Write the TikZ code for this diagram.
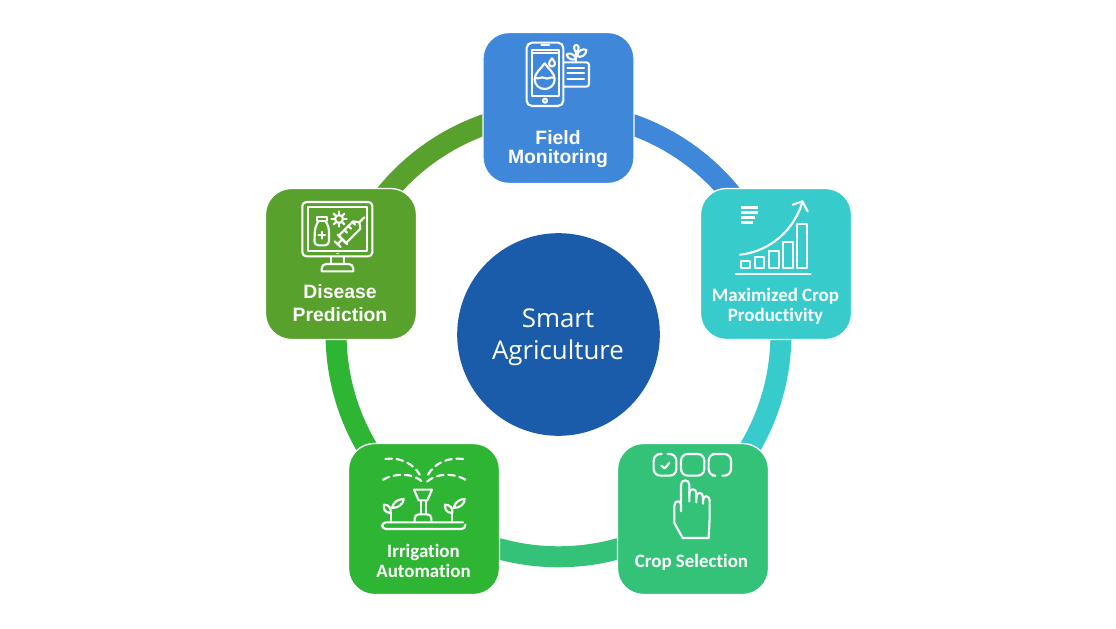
\documentclass[tikz,border=0pt]{standalone}
\usepackage{fontspec}
\setmainfont{Liberation Sans}
\newfontfamily\carl[Ligatures=NoCommon]{Carlito}
\newfontfamily\opens{Open Sans}
\usetikzlibrary{backgrounds}
\definecolor{cBlue}{HTML}{3F87D9}
\definecolor{cTeal}{HTML}{38CBCC}
\definecolor{cGreen}{HTML}{34C278}
\definecolor{cBright}{HTML}{2FB534}
\definecolor{cOlive}{HTML}{58A12C}
\definecolor{cCore}{HTML}{1A5BAA}
\tikzset{
  x=0.75pt,y=-0.75pt,
  card/.style={draw=white,line width=1pt,minimum width=113.3pt,minimum height=113.3pt,rounded corners=19.5pt,inner sep=0pt},
  ring/.style={line width=15.75pt,bend left=36,looseness=0.94},
  arial/.style={text=white,font=\fontsize{14.5}{17.5}\selectfont\bfseries,align=center,inner sep=0pt},
  calibri/.style={text=white,font=\carl\fontsize{14.2}{15}\selectfont\bfseries,align=center,inner sep=0pt},
  ic/.style={draw=white,line width=1.6pt,line join=round,line cap=round},
  icon/.style={x=0.25pt,y=-0.25pt},
}
\begin{document}
\begin{tikzpicture}
\useasboundingbox (0,0) rectangle (1116,628);
\node[card,fill=cBlue] (field) at (558.5,108) {};
\node[card,fill=cTeal] (prod) at (776,264) {};
\node[card,fill=cGreen] (select) at (693,519) {};
\node[card,fill=cBright] (irrig) at (424,519) {};
\node[card,fill=cOlive] (disease) at (341,264) {};
\node[circle,fill=cCore,minimum size=152pt,inner sep=0pt] (core) at (558.5,334.5) {};
\coordinate (rfield) at (558.5,112);
\coordinate (rprod) at (770.1,265.7);
\coordinate (rselect) at (689.3,514.5);
\coordinate (rirrig) at (427.7,514.5);
\coordinate (rdisease) at (346.9,265.7);
\begin{pgfonlayer}{background}
\fill[white] (0,0) rectangle (1116,628);
\draw[ring,cBlue] (rfield) to (rprod);
\draw[ring,cTeal] (rprod) to (rselect);
\draw[ring,cGreen] (rselect) to (rirrig);
\draw[ring,cBright] (rirrig) to (rdisease);
\draw[ring,cOlive] (rdisease) to (rfield);
\end{pgfonlayer}
\node[text=white,font=\opens\fontsize{19.4}{24}\selectfont,align=center,inner sep=0pt] (coretext) at (558,337) {Smart\\Agriculture};
\node[arial] (t1) at (558,149) {Field\\[-3.5pt]Monitoring};
\node[calibri] (t2) at (775.5,306) {Maximized Crop\\Productivity};
\node[calibri] (t3) at (691.5,562) {Crop Selection};
\node[calibri] (t4) at (423.5,561) {Irrigation\\Automation};
\node[arial] (t5) at (340,303) {Disease\\Prediction};
% Field monitoring icon
\begin{scope}[shift={(484,30)},icon]
\draw[ic,rounded corners=4pt] (128,38) rectangle (238,228);
\draw[ic] (143,70) rectangle (224,198);
\draw[ic] (143,70) -- (143,60) -- (224,60) -- (224,70);
\draw[ic] (172,46) -- (195,46);
\draw[ic] (183,212) circle[radius=6];
\draw[ic] (182,100) .. controls (170,118) and (152,128) .. (152,148) .. controls (152,165) and (166,177) .. (182,177) .. controls (198,177) and (212,165) .. (212,148) .. controls (212,128) and (194,118) .. (182,100) -- cycle;
\draw[ic] (153,143) .. controls (165,150) and (172,138) .. (182,144) .. controls (192,150) and (200,138) .. (211,144);
\draw[ic] (204,85) .. controls (198,93) and (195,97) .. (195,101) .. controls (195,112) and (213,112) .. (213,101) .. controls (213,97) and (210,93) .. (204,85) -- cycle;
\draw[ic,rounded corners=2pt] (240,97) -- (315,97) -- (315,170) -- (240,170);
\draw[ic] (250,115) -- (300,115) (250,130) -- (300,130) (250,148) -- (300,148);
\draw[ic] (277,97) -- (277,68);
\draw[ic] (277,68) .. controls (266,55) and (270,45) .. (277,45) .. controls (284,45) and (288,55) .. (277,68);
\draw[ic] (277,85) .. controls (268,68) and (252,68) .. (248,74) .. controls (252,90) and (270,92) .. (277,85);
\draw[ic] (279,78) .. controls (282,60) and (298,55) .. (307,60) .. controls (308,74) and (290,86) .. (279,78);
\end{scope}
% Productivity icon
\begin{scope}[shift={(700,188)},icon]
\draw[ic,line width=2pt,line cap=butt] (122,58) -- (173,58) (122,73) -- (173,73) (122,88) -- (165,88) (122,103) -- (158,103);
\draw[ic] (122,218) rectangle (150,240);
\draw[ic] (165,208) rectangle (193,240);
\draw[ic] (208,188) rectangle (236,240);
\draw[ic] (250,162) rectangle (278,240);
\draw[ic] (292,108) rectangle (320,240);
\draw[ic] (107,257) -- (332,257);
\draw[ic] (120,200) .. controls (215,190) and (285,120) .. (307,42);
\draw[ic] (278,50) -- (307,40) -- (323,70);
\end{scope}
% Crop selection icon
\begin{scope}[shift={(617,443)},icon]
\draw[ic,rounded corners=5pt] (152,33) -- (178,33) -- (178,98) -- (110,98) -- (110,33) -- (134,33);
\draw[ic,rounded corners=5pt] (192,33) rectangle (262,98);
\draw[ic,rounded corners=5pt] (286,33) -- (275,33) -- (275,98) -- (286,98);
\draw[ic,rounded corners=5pt] (297,33) -- (342,33) -- (342,98) -- (316,98);
\draw[ic] (133,68) -- (143,76) -- (157,60);
\draw[ic] (192,178) -- (192,125) .. controls (192,108) and (217,108) .. (217,125) -- (217,175);
\draw[ic] (217,160) -- (217,150) .. controls (217,135) and (238,135) .. (238,150) -- (238,178);
\draw[ic] (238,165) .. controls (238,145) and (258,145) .. (258,162) -- (258,182);
\draw[ic] (258,172) .. controls (258,155) and (278,155) .. (278,175) -- (278,225) -- (275,285) -- (197,285) -- (172,240) -- (172,188) .. controls (172,172) and (192,170) .. (192,185) -- (192,205);
\end{scope}
% Irrigation icon
\begin{scope}[shift={(348,443)},icon]
\draw[ic,dash pattern=on 5pt off 3.5pt] (112,48) .. controls (155,42) and (195,60) .. (215,95);
\draw[ic,dash pattern=on 5pt off 3.5pt] (105,110) .. controls (140,90) and (195,88) .. (225,118);
\draw[ic,dash pattern=on 5pt off 3.5pt] (345,48) .. controls (300,42) and (260,60) .. (240,95);
\draw[ic,dash pattern=on 5pt off 3.5pt] (352,110) .. controls (320,90) and (265,88) .. (235,118);
\draw[ic] (198,140) -- (252,140) -- (238,172) -- (212,172) -- cycle;
\draw[ic] (218,172) -- (218,212) (235,172) -- (235,212);
\draw[ic,rounded corners=3pt] (200,237) -- (200,214) -- (250,214) -- (250,237);
\draw[ic,rounded corners=3pt] (345,238) -- (102,238) -- (102,258) -- (352,258) -- (352,245);
\draw[ic] (128,238) -- (128,210);
\draw[ic] (128,210) .. controls (108,210) and (106,195) .. (108,185) .. controls (122,185) and (130,195) .. (128,210);
\draw[ic] (132,195) .. controls (135,178) and (150,168) .. (167,168) .. controls (167,182) and (152,195) .. (132,195);
\draw[ic] (313,238) -- (313,210);
\draw[ic] (313,210) .. controls (293,210) and (290,195) .. (291,185) .. controls (306,185) and (315,195) .. (313,210);
\draw[ic] (317,195) .. controls (320,178) and (335,168) .. (350,168) .. controls (350,182) and (337,195) .. (317,195);
\end{scope}
% Disease icon
\begin{scope}[shift={(265,188)},icon]
\draw[ic,rounded corners=3pt] (112,42) rectangle (322,205);
\draw[ic] (128,58) rectangle (305,188);
\fill[white] (212,195) rectangle (222,199);
\draw[ic] (197,207) -- (197,228) (237,207) -- (237,228);
\draw[ic] (170,250) -- (170,242) .. controls (170,234) and (176,228) .. (184,228) -- (251,228) .. controls (259,228) and (265,234) .. (265,242) -- (265,250) -- cycle;
\draw[ic] (155,87) rectangle (187,100);
\draw[ic,rounded corners=3pt] (160,100) -- (150,118) -- (148,172) -- (192,172) -- (192,118) -- (182,100);
\draw[ic] (170,132) -- (170,152) (160,142) -- (180,142);
\draw[ic] (222,93) circle[radius=12];
\foreach \a in {0,45,...,315}{\draw[ic] (222,93) ++(\a:12) -- ++(\a:11);}
% syringe
\draw[ic] (264,100) -- (221,143) -- (243,165) -- (286,122) -- (283,103) -- cycle;
\draw[ic] (283,103) -- (298,88);
\draw[ic] (218,140) -- (246,168);
\draw[ic] (232,154) -- (218,168);
\draw[ic] (209,160) -- (227,177);
\draw[ic] (250,114) -- (258,122) (238,126) -- (246,134) (262,102) -- (270,110);
\end{scope}
\end{tikzpicture}
\end{document}
